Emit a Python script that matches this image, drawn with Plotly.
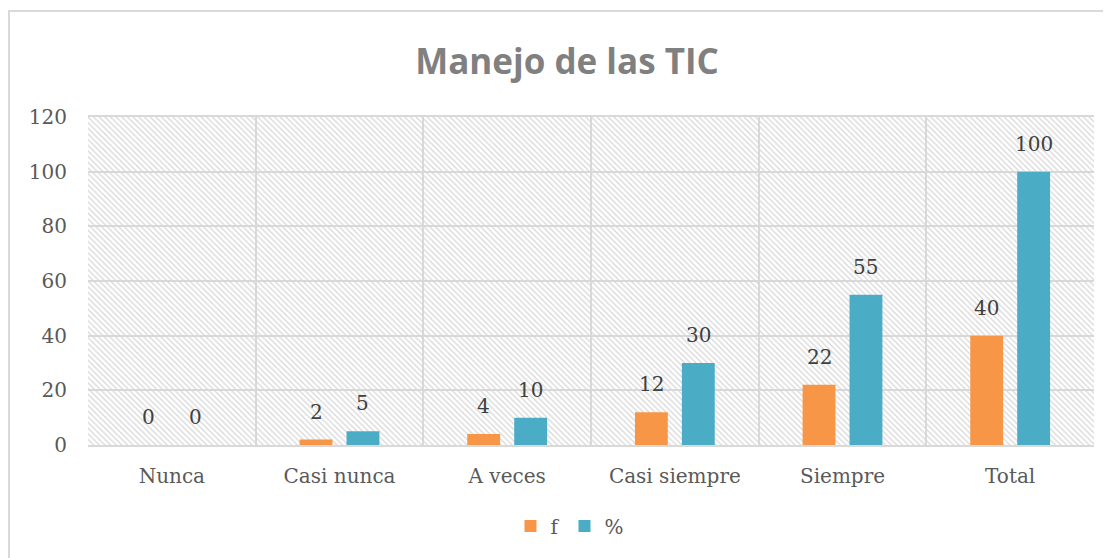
import plotly.graph_objects as go

# Data
categories = ["Nunca", "Casi nunca", "A veces", "Casi siempre", "Siempre", "Total"]
f_values = [0, 2, 4, 12, 22, 40]
pct_values = [0, 5, 10, 30, 55, 100]
y_ticks = [0, 20, 40, 60, 80, 100, 120]

ORANGE = "#F79646"
BLUE = "#4BACC6"
GRID = "#d9d9d9"
TEXT = "#595959"
LABEL = "#404040"
SERIF = "DejaVu Serif"

# page renders with an 8px body margin, so size the figure to the visible area
W, H = 1103, 550
L, R, T, B = 80, 17, 109, 113
BARGAP, GROUPGAP = 0.44, 0.3

fig = go.Figure()

# hatched plot background on the base axis (drawn below the bars)
fig.add_trace(go.Bar(
    x=[0.5], y=[max(y_ticks)], width=[1], xaxis="x", yaxis="y",
    marker=dict(color="rgba(0,0,0,0)", line=dict(width=0),
                pattern=dict(shape="\\", fgcolor="#d6d6d6", bgcolor="rgba(0,0,0,0)",
                             size=4, solidity=0.3, fillmode="replace")),
    showlegend=False, hoverinfo="skip",
))

fig.add_trace(go.Bar(x=categories, y=f_values, name="f", xaxis="x2",
                     marker=dict(color=ORANGE, line=dict(width=0))))
fig.add_trace(go.Bar(x=categories, y=pct_values, name="%", xaxis="x2",
                     marker=dict(color=BLUE, line=dict(width=0))))

# data labels above each bar
cat_px = (W - L - R) / len(categories)
slot_px = (1 - BARGAP) * cat_px / 2
for vals, shift in ((f_values, -slot_px / 2), (pct_values, slot_px / 2)):
    for c, v in zip(categories, vals):
        fig.add_annotation(x=c, y=v, xref="x2", yref="y", text=str(v), showarrow=False,
                           xshift=shift, yshift=14, yanchor="bottom",
                           font=dict(family=SERIF, size=20, color=LABEL))

fig.update_layout(
    width=W, height=H,
    paper_bgcolor="white", plot_bgcolor="white",
    margin=dict(l=L, r=R, t=T, b=B),
    barmode="group", bargap=BARGAP, bargroupgap=GROUPGAP,
    title=dict(text="<b>Manejo de las TIC</b>", x=559 / W, xanchor="center",
               y=1 - 54 / H, yanchor="middle", yref="container",
               font=dict(family="Open Sans", size=35, color="#808080")),
    xaxis=dict(range=[0, 1], visible=False, fixedrange=True),
    xaxis2=dict(type="category", overlaying="x", side="bottom", tickson="boundaries",
                showgrid=True, gridcolor=GRID, gridwidth=2,
                ticks="", showline=True, linecolor=GRID, linewidth=2, mirror=True,
                ticklabelstandoff=12,
                tickfont=dict(family=SERIF, size=20, color=TEXT)),
    yaxis=dict(range=[0, max(y_ticks)], tickvals=y_ticks, showgrid=True, gridcolor=GRID, gridwidth=2,
               zeroline=False, showline=False, ticks="", ticklabelstandoff=20,
               tickfont=dict(family=SERIF, size=20, color=TEXT)),
    legend=dict(orientation="h", x=(562 - L) / (W - L - R), xanchor="center",
                y=-(518 - 437) / 328, yanchor="middle",
                font=dict(family=SERIF, size=20, color=TEXT), traceorder="normal",
                itemwidth=30),
    shapes=[dict(type="rect", xref="paper", yref="paper",
                 x0=(1 - L) / (W - L - R), x1=1.2, y0=-0.8, y1=1 + (T - 3) / (H - T - B),
                 line=dict(color=GRID, width=2), fillcolor="rgba(0,0,0,0)", layer="below")],
)

fig.write_html("out.html")
